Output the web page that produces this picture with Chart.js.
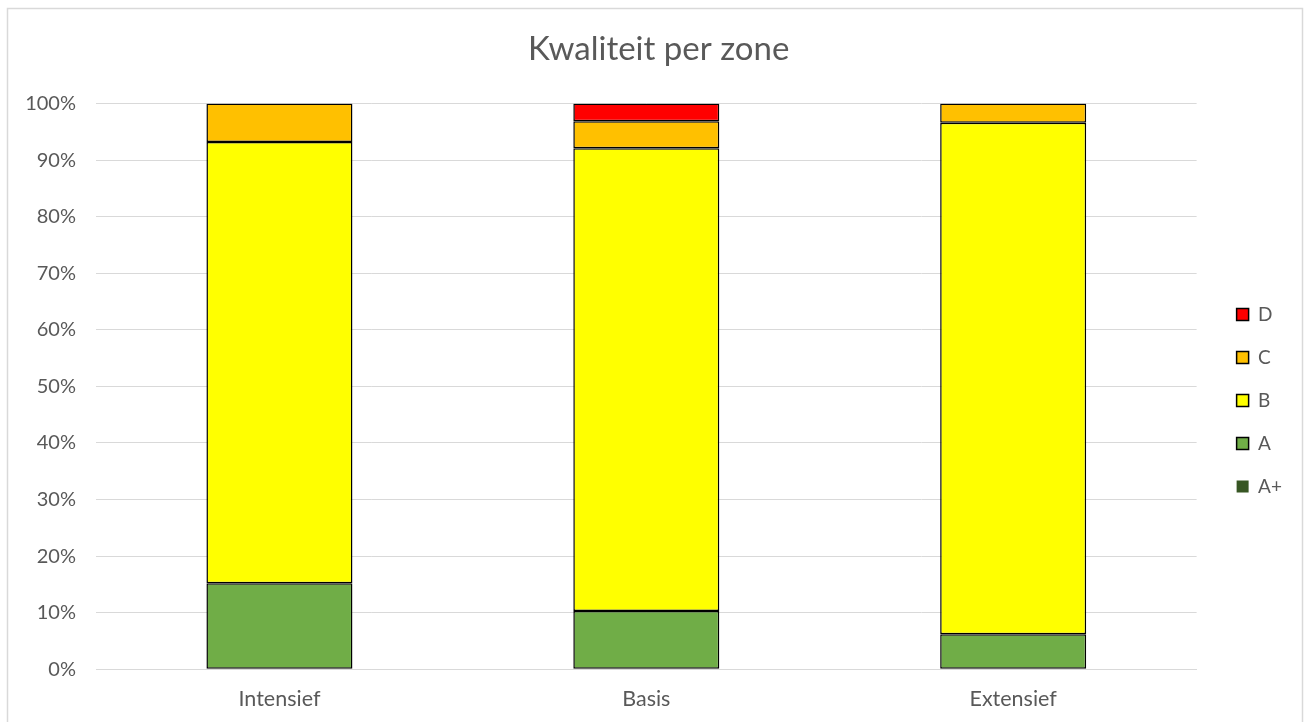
<!DOCTYPE html>
<html>
<head>
<meta charset="utf-8">
<script src="https://cdn.jsdelivr.net/npm/chart.js@4.4.1/dist/chart.umd.min.js"></script>
<style>
  html, body { margin: 0; padding: 0; background: #ffffff; }
  #wrap { width: 1306px; height: 722px; position: relative; }
</style>
</head>
<body>
<div id="wrap"><canvas id="c" width="1306" height="722"></canvas></div>
<script>
const categories = ['Intensief', 'Basis', 'Extensief'];
const seriesNames = ['A+', 'A', 'B', 'C', 'D'];
const valuesAPlus = [0, 0, 0];
const valuesA = [15.2, 10.3, 6.2];
const valuesB = [78.0, 81.8, 90.4];
const valuesC = [6.8, 4.8, 3.4];
const valuesD = [0, 3.1, 0];
const yTicks = [0, 10, 20, 30, 40, 50, 60, 70, 80, 90, 100];
const title = 'Kwaliteit per zone';

const colors = ['#375623', '#70AD47', '#FFFF00', '#FFC000', '#FF0000'];
const allValues = [valuesAPlus, valuesA, valuesB, valuesC, valuesD];

const FONT = 'Lato, "Open Sans", sans-serif';
const TEXT = '#595959';

const datasets = seriesNames.map((name, i) => ({
  label: name,
  data: allValues[i],
  backgroundColor: colors[i],
  borderColor: '#000000',
  borderWidth: i === 0 ? 0 : 1.5,
  borderSkipped: false,
  categoryPercentage: 1.0,
  barPercentage: 0.398,
  yAxisID: 'y'
}));

const frame = {
  id: 'frame',
  beforeDraw(chart) {
    const ctx = chart.ctx;
    ctx.save();
    ctx.fillStyle = '#ffffff';
    ctx.fillRect(0, 0, chart.width, chart.height);
    ctx.strokeStyle = '#d9d9d9';
    ctx.lineWidth = 1.5;
    ctx.strokeRect(7.5, 8.5, 1295, 740);
    ctx.restore();
  }
};

new Chart(document.getElementById('c'), {
  type: 'bar',
  data: { labels: categories, datasets },
  plugins: [frame],
  options: {
    responsive: false,
    animation: false,
    devicePixelRatio: 1,
    layout: { padding: { left: 0, right: 14, top: 0, bottom: -7 } },
    plugins: {
      title: {
        display: true,
        text: '\u00A0\u00A0\u00A0' + title,
        color: TEXT,
        font: { family: FONT, size: 33, weight: 'normal' },
        padding: { top: 30, bottom: 34 }
      },
      legend: {
        position: 'right',
        reverse: true,
        title: { display: true, text: ' ', font: { size: 10 }, padding: { top: 30, bottom: 30 } },
        labels: {
          color: TEXT,
          font: { family: FONT, size: 19 },
          boxWidth: 12,
          boxHeight: 12,
          padding: 24
        }
      },
      tooltip: { enabled: false }
    },
    scales: {
      x: {
        stacked: true,
        grid: { display: false, drawTicks: false },
        border: { display: true, color: '#d9d9d9', width: 1 },
        ticks: { color: TEXT, font: { family: FONT, size: 21.5 }, padding: 17 }
      },
      y: {
        stacked: true,
        min: 0,
        max: 100,
        afterFit(scale) { scale.width = 96; },
        afterBuildTicks(scale) { scale.ticks = yTicks.map(v => ({ value: v })); },
        grid: { color: '#d9d9d9', lineWidth: 1, drawTicks: false },
        border: { display: false },
        ticks: {
          color: TEXT,
          font: { family: FONT, size: 20 },
          padding: 20,
          callback: v => v + '%'
        }
      },
      spacer: {
        position: 'right',
        display: true,
        afterFit(scale) { scale.width = 16; },
        grid: { display: false, drawTicks: false },
        border: { display: false },
        ticks: { display: false }
      }
    }
  }
});
</script>
</body>
</html>
